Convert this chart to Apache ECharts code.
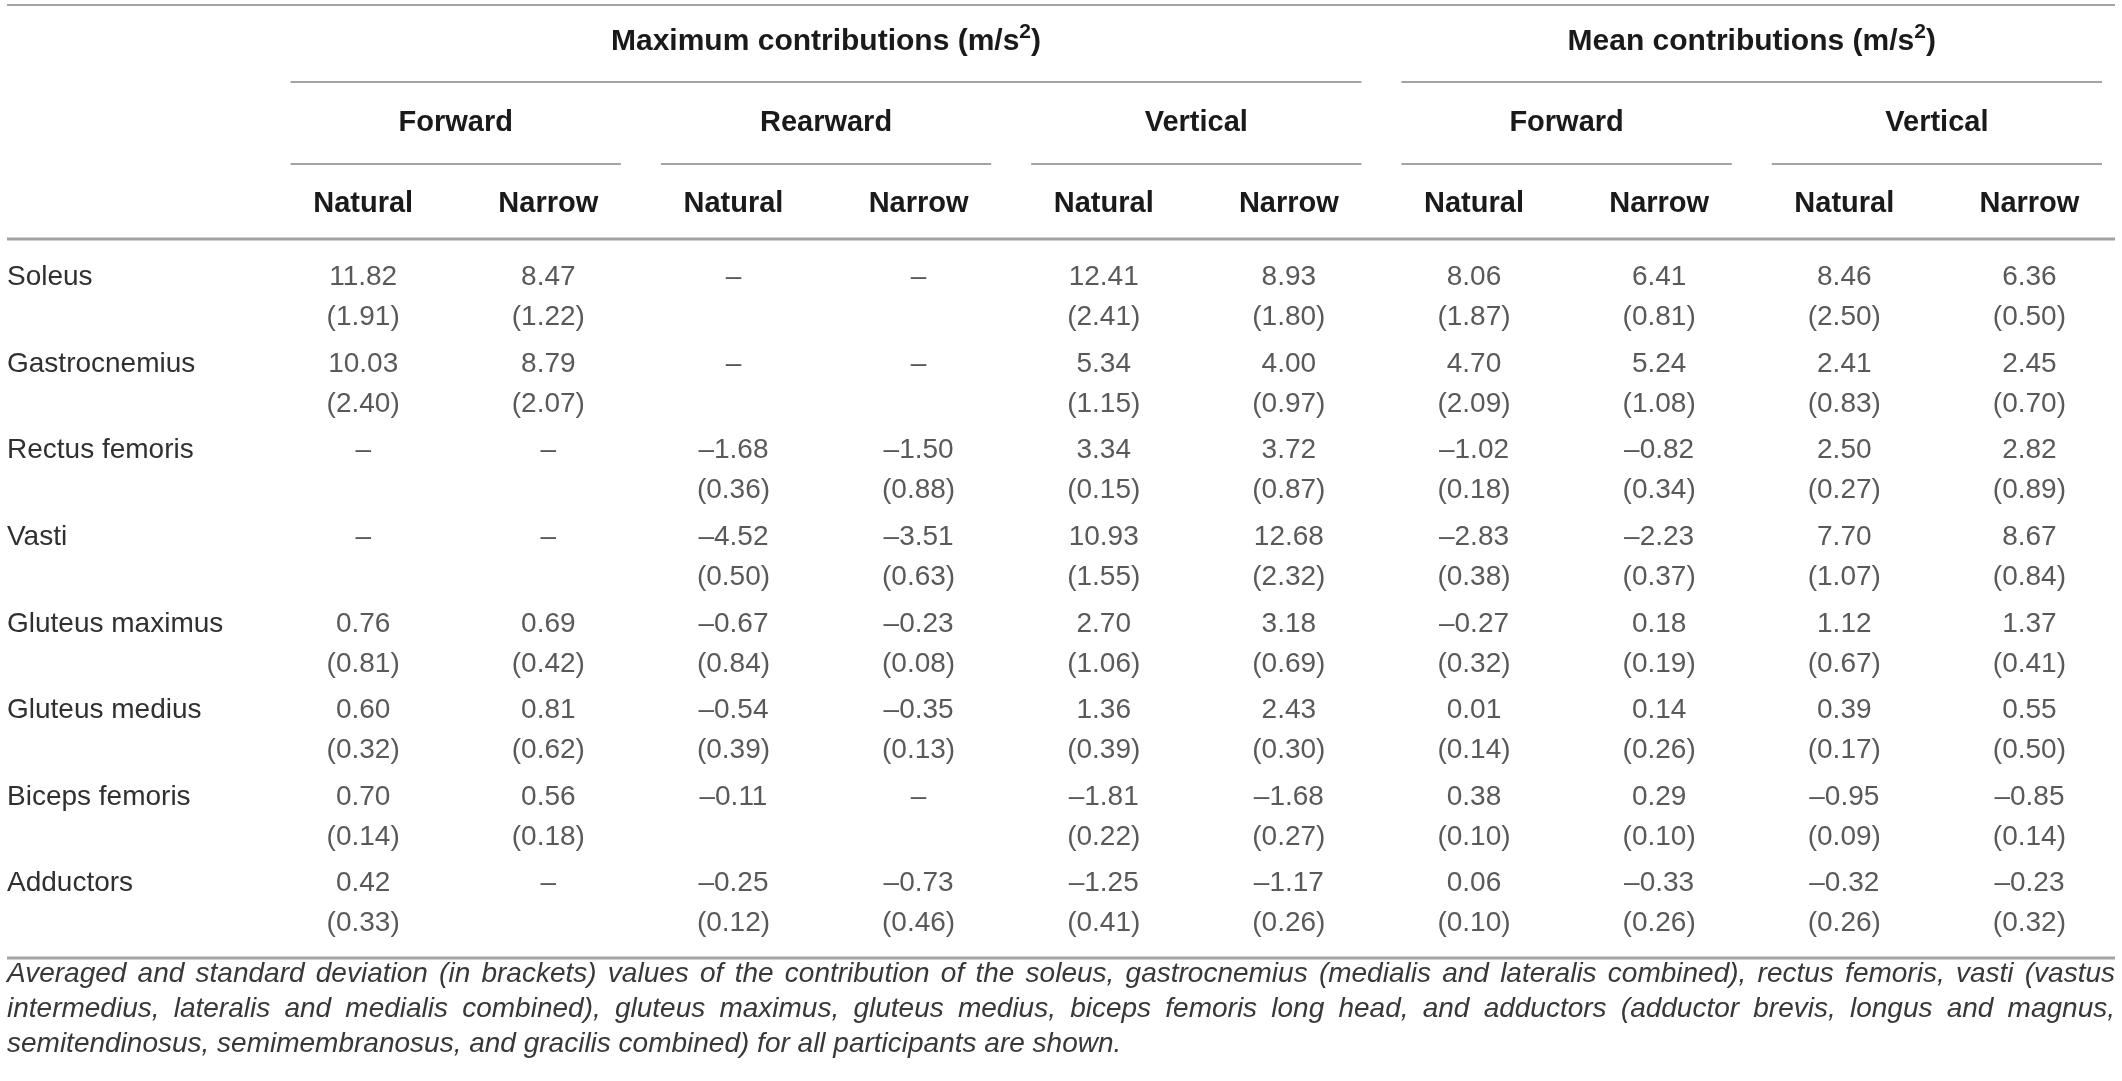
<!DOCTYPE html>
<html>
<head>
<meta charset="utf-8">
<title>Muscle contributions</title>
<script src="https://cdn.jsdelivr.net/npm/echarts@6/dist/echarts.min.js"></script>
<style>
    html, body { margin: 0; padding: 0; background: #fff; }
    #main { width: 2122px; height: 1081px; }
</style>
</head>
<body>
<div id="main"></div>
<script type="text/javascript">
    // table content
    var muscles = ['Soleus', 'Gastrocnemius', 'Rectus femoris', 'Vasti',
        'Gluteus maximus', 'Gluteus medius', 'Biceps femoris', 'Adductors'];
    var groupTitles = ['Maximum contributions (m/s{sup|2})', 'Mean contributions (m/s{sup|2})'];
    var groupDirections = [3, 2];            // how many directions each group holds
    var directions = ['Forward', 'Rearward', 'Vertical', 'Forward', 'Vertical'];
    var conditions = ['Natural', 'Narrow'];

    // one row per muscle, null = no contribution
    var meanRows = [
        [11.82, 8.47, null, null, 12.41, 8.93, 8.06, 6.41, 8.46, 6.36],
        [10.03, 8.79, null, null, 5.34, 4.00, 4.70, 5.24, 2.41, 2.45],
        [null, null, -1.68, -1.50, 3.34, 3.72, -1.02, -0.82, 2.50, 2.82],
        [null, null, -4.52, -3.51, 10.93, 12.68, -2.83, -2.23, 7.70, 8.67],
        [0.76, 0.69, -0.67, -0.23, 2.70, 3.18, -0.27, 0.18, 1.12, 1.37],
        [0.60, 0.81, -0.54, -0.35, 1.36, 2.43, 0.01, 0.14, 0.39, 0.55],
        [0.70, 0.56, -0.11, null, -1.81, -1.68, 0.38, 0.29, -0.95, -0.85],
        [0.42, null, -0.25, -0.73, -1.25, -1.17, 0.06, -0.33, -0.32, -0.23]
    ];
    var sdRows = [
        [1.91, 1.22, null, null, 2.41, 1.80, 1.87, 0.81, 2.50, 0.50],
        [2.40, 2.07, null, null, 1.15, 0.97, 2.09, 1.08, 0.83, 0.70],
        [null, null, 0.36, 0.88, 0.15, 0.87, 0.18, 0.34, 0.27, 0.89],
        [null, null, 0.50, 0.63, 1.55, 2.32, 0.38, 0.37, 1.07, 0.84],
        [0.81, 0.42, 0.84, 0.08, 1.06, 0.69, 0.32, 0.19, 0.67, 0.41],
        [0.32, 0.62, 0.39, 0.13, 0.39, 0.30, 0.14, 0.26, 0.17, 0.50],
        [0.14, 0.18, null, null, 0.22, 0.27, 0.10, 0.10, 0.09, 0.14],
        [0.33, null, 0.12, 0.46, 0.41, 0.26, 0.10, 0.26, 0.26, 0.32]
    ];

    var captionLines = [
        'Averaged and standard deviation (in brackets) values of the contribution of the soleus, gastrocnemius (medialis and lateralis combined), rectus femoris, vasti (vastus',
        'intermedius, lateralis and medialis combined), gluteus maximus, gluteus medius, biceps femoris long head, and adductors (adductor brevis, longus and magnus,',
        'semitendinosus, semimembranosus, and gracilis combined) for all participants are shown.'
    ];

    var FONT = '"Liberation Sans", Arial, Helvetica, sans-serif';
    var TEXT = '#303030';
    var HEAD = '#1a1a1a';
    var RULE = '#a3a3a3';
    var tableLeft = 7, tableRight = 2115;

    // one column per direction x condition
    var columnKeys = [];
    directions.forEach(function (d, i) {
        conditions.forEach(function (c) { columnKeys.push(i + '-' + c); });
    });

    function fmt(v) {
        return v < 0 ? '\u2013' + (-v).toFixed(2) : v.toFixed(2);
    }

    var cells = [];
    meanRows.forEach(function (row, r) {
        row.forEach(function (m, c) {
            cells.push([c, r, m, sdRows[r][c]]);
        });
    });

    var myChart = echarts.init(document.getElementById('main'));

    myChart.setOption({
        animation: false,
        backgroundColor: '#fff',
        grid: { left: 270.6, right: -36.4, top: 254, bottom: 134 },
        xAxis: {
            type: 'category',
            position: 'top',
            data: columnKeys,
            axisLine: { show: false },
            axisTick: { show: false },
            splitLine: { show: false },
            axisLabel: {
                interval: 0,
                margin: 50,
                verticalAlign: 'middle',
                fontFamily: FONT,
                fontSize: 29,
                fontWeight: 'bold',
                color: HEAD,
                formatter: function (v, i) { return conditions[i % 2]; }
            }
        },
        yAxis: {
            type: 'category',
            inverse: true,
            data: muscles,
            axisLine: { show: false },
            axisTick: { show: false },
            splitLine: { show: false },
            axisLabel: {
                interval: 0,
                align: 'left',
                margin: 263.6,
                lineHeight: 40,
                fontFamily: FONT,
                fontSize: 28,
                color: TEXT,
                formatter: function (v) { return v + '\n\u00a0'; }
            }
        },
        series: [{
            type: 'scatter',
            symbolSize: 1,
            itemStyle: { color: 'transparent' },
            data: cells,
            label: {
                show: true,
                position: 'inside',
                lineHeight: 40,
                fontFamily: FONT,
                fontSize: 28,
                color: TEXT,
                formatter: function (p) {
                    var m = p.value[2], s = p.value[3];
                    return (m == null ? '\u2013' : fmt(m)) + '\n' +
                        (s == null ? '\u00a0' : '(' + s.toFixed(2) + ')');
                }
            }
        }]
    });

    // header rules and titles, placed from the column positions
    var px = function (i) { return myChart.convertToPixel({ xAxisIndex: 0 }, i); };
    var halfCol = (px(1) - px(0)) / 2;
    var pad = 20;

    function span(first, last) {
        var x1 = px(first) - halfCol + pad;
        var x2 = Math.min(px(last) + halfCol - pad, tableRight);
        return [x1, x2];
    }
    function rule(x1, x2, y, w) {
        return { type: 'line', silent: true,
            shape: { x1: x1, y1: y, x2: x2, y2: y },
            style: { stroke: RULE, lineWidth: w || 2 } };
    }
    function label(text, x, y, extra) {
        var st = { text: text, x: x, y: y, fill: HEAD, fontFamily: FONT, fontSize: 29,
            fontWeight: 'bold', align: 'center', verticalAlign: 'middle',
            textAlign: 'center', textVerticalAlign: 'middle' };
        for (var k in extra) st[k] = extra[k];
        return { type: 'text', silent: true, style: st };
    }

    var g = [];
    g.push(rule(tableLeft, tableRight, 5, 2));
    g.push(rule(tableLeft, tableRight, 239, 3));
    g.push(rule(tableLeft, tableRight, 958, 3));

    var col = 0, dir = 0;
    groupTitles.forEach(function (t, gi) {
        var nCols = groupDirections[gi] * conditions.length;
        var s = span(col, col + nCols - 1);
        g.push(rule(s[0], s[1], 82, 2));
        g.push(label(t, (s[0] + s[1]) / 2, 42, {
            fontSize: 30,
            rich: { sup: { fontFamily: FONT, fontSize: 21, fontWeight: 'bold', fill: HEAD, padding: [0, 0, 20, 0] } }
        }));
        for (var k = 0; k < groupDirections[gi]; k++) {
            var c0 = col + k * conditions.length;
            var ds = span(c0, c0 + conditions.length - 1);
            g.push(rule(ds[0], ds[1], 164, 2));
            g.push(label(directions[dir], (ds[0] + ds[1]) / 2, 123));
            dir++;
        }
        col += nCols;
    });

    // justified italic caption
    var capSize = 28;
    var ctx = document.createElement('canvas').getContext('2d');
    ctx.font = 'italic ' + capSize + 'px ' + FONT;
    var capY = [974, 1009, 1044];
    captionLines.forEach(function (line, li) {
        var words = line.split(' ');
        var widths = words.map(function (w) { return ctx.measureText(w).width; });
        var total = widths.reduce(function (a, b) { return a + b; }, 0);
        var gap = ctx.measureText(' ').width;
        if (li < captionLines.length - 1) gap = (tableRight - tableLeft - total) / (words.length - 1);
        var x = tableLeft;
        words.forEach(function (w, i) {
            g.push({ type: 'text', silent: true, style: {
                text: w, x: x, y: capY[li], fill: '#383838', fontFamily: FONT, fontSize: capSize,
                fontStyle: 'italic', align: 'left', verticalAlign: 'middle',
                textAlign: 'left', textVerticalAlign: 'middle' } });
            x += widths[i] + gap;
        });
    });

    myChart.setOption({ graphic: { elements: g } });
</script>
</body>
</html>
